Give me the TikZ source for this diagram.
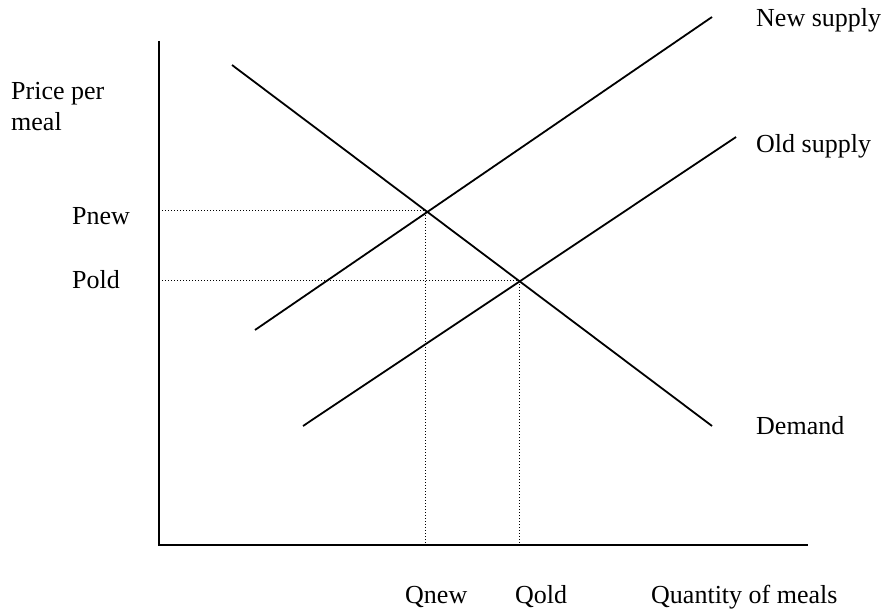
\documentclass[tikz,border=0pt]{standalone}
\usepackage{fontspec}
\setmainfont{Liberation Serif}
\begin{document}
\begin{tikzpicture}[x=1pt,y=-1pt,
  lbl/.style={anchor=base west,inner sep=0pt,font=\fontsize{26}{30}\selectfont},
  axisline/.style={line width=2pt,line cap=butt},
  curve/.style={line width=1.8pt},
  guide/.style={line width=1pt,dash pattern=on 1pt off 2pt}]
\useasboundingbox (0,0) rectangle (886,612);
% axes
\coordinate (ytop) at (159,41);
\coordinate (org) at (159,545);
\coordinate (xend) at (808,545);
\draw[axisline] (ytop) -- (org) -- (xend);
% curves
\coordinate (d1) at (232,65);
\coordinate (d2) at (712,426);
\coordinate (n1) at (255,330);
\coordinate (n2) at (712,17);
\coordinate (o1) at (303,426);
\coordinate (o2) at (736,137);
\draw[curve] (d1) -- (d2);
\draw[curve] (n1) -- (n2);
\draw[curve] (o1) -- (o2);
% equilibria
\coordinate (enew) at (425,211);
\coordinate (eold) at (519,281);
\coordinate (pnewax) at (159,211);
\coordinate (poldax) at (159,281);
\coordinate (qnewax) at (425,545);
\coordinate (qoldax) at (519,545);
\draw[guide] (pnewax) -- (enew) -- (qnewax);
\draw[guide] (poldax) -- (eold) -- (qoldax);
% labels
\node[lbl] (price1) at (11,100) {Price per};
\node[lbl] (price2) at (11,131) {meal};
\node[lbl] (pnew) at (72,225) {Pnew};
\node[lbl] (pold) at (72,289) {Pold};
\node[lbl] (newsup) at (756,27) {New supply};
\node[lbl] (oldsup) at (756,153) {Old supply};
\node[lbl] (dem) at (756,434) {Demand};
\node[lbl] (qnew) at (405,603) {Qnew};
\node[lbl] (qold) at (515,603) {Qold};
\node[lbl] (qty) at (651,603) {Quantity of meals};
\end{tikzpicture}
\end{document}
